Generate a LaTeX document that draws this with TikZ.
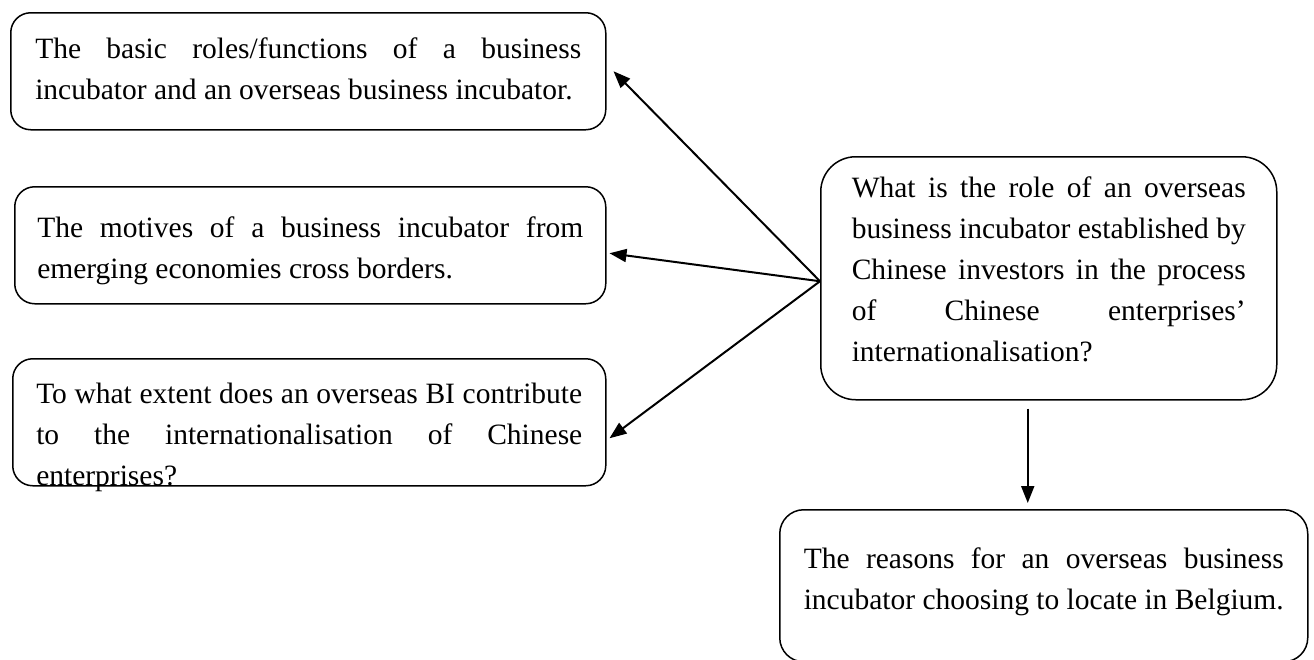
\documentclass[tikz,border=0pt]{standalone}
\usepackage{fontspec}
\setmainfont{Liberation Serif}
\usetikzlibrary{arrows.meta}

% box text: height, width, first baseline, text
\newcommand{\qtext}[4]{\parbox[t][#1][t]{#2}{\rule{0pt}{#3}#4}}

\tikzset{
  qbox/.style={draw, line width=1.5pt, rounded corners=20pt, inner ysep=0pt,
    anchor=north west, font=\fontsize{29.5pt}{41pt}\selectfont},
  link/.style={-{Triangle[length=17pt,width=13pt]}, line width=2pt}
}

\begin{document}
\begin{tikzpicture}[x=1pt,y=-1pt]
  \useasboundingbox (0,0) rectangle (1314,659);

  \node[qbox, inner xsep=24.5pt] (roles) at (10,12)
    {\qtext{117pt}{546pt}{46pt}{The basic roles/functions of a business\linebreak incubator and an overseas business incubator.}};
  \node[qbox, inner xsep=22.5pt] (motives) at (14,186)
    {\qtext{117pt}{546pt}{51pt}{The motives of a business incubator from\linebreak emerging economies cross borders.}};
  \node[qbox, inner xsep=23.5pt] (extent) at (12,358)
    {\qtext{127pt}{546pt}{45pt}{To what extent does an overseas BI contribute\linebreak to the internationalisation of Chinese\linebreak enterprises?}};
  \node[qbox, inner xsep=31pt, rounded corners=35pt] (rq) at (820,156)
    {\qtext{243pt}{394pt}{41pt}{What is the role of an overseas\linebreak business incubator established by\linebreak Chinese investors in the process\linebreak of Chinese enterprises'\linebreak internationalisation?}};
  \node[qbox, inner xsep=24pt, rounded corners=24pt] (belgium) at (779,509)
    {\qtext{152pt}{480pt}{59pt}{The reasons for an overseas business\linebreak incubator choosing to locate in Belgium.}};

  \coordinate (down) at ([xshift=-21pt,yshift=-8pt]rq.south);
  \path[link]
  ([yshift=-3pt]rq.west) edge ([xshift=7pt]roles.east)
                         edge ([xshift=3pt,yshift=-8pt]motives.east)
                         edge ([xshift=3pt,yshift=-16pt]extent.east)
  (down) edge ([yshift=6pt]down |- belgium.north)
  ;
\end{tikzpicture}
\end{document}
